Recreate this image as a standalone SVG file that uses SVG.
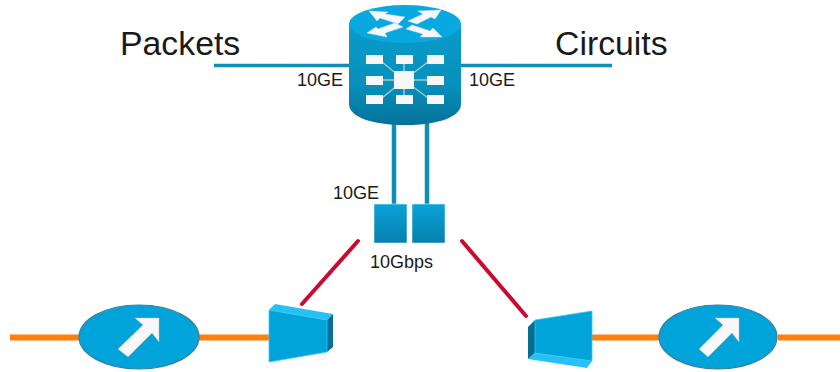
<svg xmlns="http://www.w3.org/2000/svg" width="840" height="372" viewBox="0 0 840 372">
<style>
text{font-family:"Liberation Sans",Arial,sans-serif;fill:#1a1a1a}
.big{font-size:33.800px}
.sm{font-size:18px}
.blue{stroke:#0f8fb5;stroke-width:3.5;fill:none}
.teal{stroke:#0f8fb5;stroke-width:4.500;fill:none}
.red{stroke:#cc0a2f;stroke-width:4;fill:none;stroke-linecap:round}
.org{stroke:#ff7f0a;stroke-width:6;fill:none}
.w{fill:#f7f7f7}
.wl{stroke:#9fc9d8;stroke-width:1.5}
.sq{fill:url(#sq);stroke:#fff;stroke-width:.5}
.el{fill:#00a3da;stroke:#3d7f9c;stroke-width:1.2}
.arr{fill:#f8f8f8;stroke:#bcbcbc;stroke-width:.5}
</style>
<defs>
<linearGradient id="body" x1="0" y1="0" x2="0" y2="1"><stop offset="0" stop-color="#0a9ccb"/><stop offset=".6" stop-color="#0790bb"/><stop offset="1" stop-color="#05729a"/></linearGradient>
<linearGradient id="sq" x1="0" y1="0" x2="0" y2="1"><stop offset="0" stop-color="#0aa3d8"/><stop offset="1" stop-color="#0680ae"/></linearGradient>
</defs>
<g id="connectors">
<path class="blue" d="M214 65.500H352M455 65.500H612"/>
<path class="teal" d="M394 120V206M427 120V206"/>
<path class="red" d="M358 241L302 304M462 241L526 316"/>
<path class="org" d="M10 337.500H80M198 337.500H270M592 337.500H660M778 337.500H840"/>
</g>
<g id="label-packets"><text class="big" x="120" y="55">Packets</text></g>
<g id="label-circuits"><text class="big" x="555" y="55">Circuits</text></g>
<g id="router">
<path d="M349 24V104C349 117 372 125 405 125C438 125 461 117 461 104V24Z" fill="url(#body)"/>
<ellipse cx="405" cy="24" rx="56" ry="19" fill="#0aa8e0"/>
<g fill="#f5f8fa" stroke="#cfe3ec" stroke-width=".5">
<path d="M369 11L388 12L385 14L405 17L398 24L380 18L377 21Z"/>
<path d="M441 10L418 11L423 14L408 21L417 24L431 17L435 19Z"/>
<path d="M367 33L387 37L385 33L403 27L395 23L378 29L376 27Z"/>
<path d="M442 37L420 37L423 34L406 29L412 25L430 31L433 28Z"/>
</g>
<path d="M382 62L404 80M428 62L404 80M382 80H428M382 98L404 80M428 98L404 80M404 62V98" class="wl" fill="none"/>
<rect class="w" x="394" y="71" width="20" height="18"/>
<rect class="w" x="366" y="55" width="17" height="9"/><rect class="w" x="396" y="55" width="17" height="9"/><rect class="w" x="427" y="55" width="17" height="9"/>
<rect class="w" x="366" y="76" width="17" height="9"/><rect class="w" x="427" y="76" width="17" height="9"/>
<rect class="w" x="366" y="95" width="17" height="9"/><rect class="w" x="396" y="95" width="17" height="9"/><rect class="w" x="427" y="95" width="17" height="9"/>
</g>
<g id="label-10ge-left"><text class="sm" x="297" y="86">10GE</text></g>
<g id="label-10ge-right"><text class="sm" x="469" y="86">10GE</text></g>
<g id="label-10ge-down"><text class="sm" x="333" y="199">10GE</text></g>
<g id="port-left"><rect class="sq" x="374" y="204" width="33" height="39"/></g>
<g id="port-right"><rect class="sq" x="412" y="204" width="33" height="39"/></g>
<g id="label-10gbps"><text class="sm" x="370" y="268">10Gbps</text></g>
<g id="amp-left">
<path d="M269 310L275 304L333 314L327 320Z" fill="#27c2f5"/>
<path d="M327 320L333 314V347L327 352Z" fill="#056e92"/>
<path d="M269 310L327 320V352L269 362Z" fill="#00a3da" stroke="#35c8f7" stroke-width=".8"/>
</g>
<g id="amp-right">
<path d="M528 327L535 320V353L528 359Z" fill="#056e92"/>
<path d="M528 359L535 353L592 361L587 368Z" fill="#27c2f5"/>
<path d="M535 320L592 311V361L535 353Z" fill="#00a3da" stroke="#35c8f7" stroke-width=".8"/>
</g>
<g id="node-left">
<ellipse class="el" cx="139" cy="337" rx="60" ry="32"/>
<path class="arr" d="M159 318H135L143 325L118 349L128 357L152 333L159 342Z"/>
</g>
<g id="node-right">
<ellipse class="el" cx="718" cy="337" rx="59" ry="32"/>
<path class="arr" d="M739 318H715L723 325L699 349L708 357L732 333L739 342Z"/>
</g>
</svg>
